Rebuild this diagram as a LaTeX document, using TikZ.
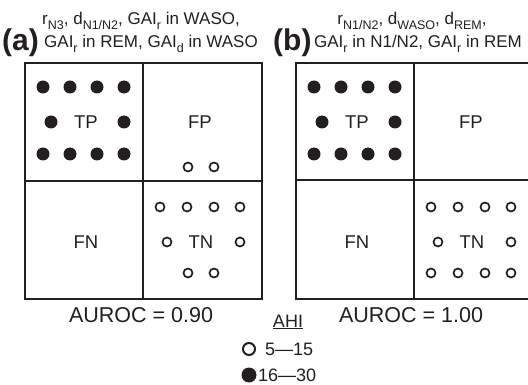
\documentclass[tikz,border=0pt]{standalone}
\usepackage{fontspec}
\setmainfont{Liberation Sans}
\definecolor{ink}{HTML}{231F20}
\newcommand\sbs[1]{\raisebox{-0.28em}{\fontsize{12.5}{12.5}\selectfont #1}}
\begin{document}
\begin{tikzpicture}[x=1pt,y=-1pt,
  txt/.style={inner sep=0pt,text=ink},
  hdr/.style={txt,anchor=base,font=\fontsize{17}{17}\selectfont},
  lbl/.style={txt,font=\fontsize{18.5}{18.5}\selectfont},
  big/.style={txt,anchor=base west,font=\fontsize{30}{30}\selectfont\bfseries},
  auc/.style={txt,font=\fontsize{21.5}{21.5}\selectfont},
  boxline/.style={draw=ink,line width=1.6pt},
  fdot/.style={circle,fill=ink,inner sep=0pt,minimum size=13pt},
  odot/.style={circle,draw=ink,line width=1.7pt,inner sep=0pt,minimum size=9pt},
  ldoto/.style={circle,draw=ink,line width=2pt,inner sep=0pt,minimum size=12pt},
  ldotf/.style={circle,fill=ink,inner sep=0pt,minimum size=15pt}]
\clip (0,0) rectangle (528,385);
\fill[white] (0,0) rectangle (528,385);
% headers
\node[big] (la) at (2,51) {(a)};
\node[hdr] (ha1) at (141,25) {r\sbs{N3}, d\sbs{N1/N2}, GAI\sbs{r} in WASO,};
\node[hdr] (ha2) at (151,48) {GAI\sbs{r} in REM, GAI\sbs{d} in WASO};
\node[big] (lb) at (273,51) {(b)};
\node[hdr] (hb1) at (412,25) {r\sbs{N1/N2}, d\sbs{WASO}, d\sbs{REM},};
\node[hdr] (hb2) at (418,48) {GAI\sbs{r} in N1/N2, GAI\sbs{r} in REM};
% panel a
\draw[boxline] (25,63) rectangle (262,299);
\draw[boxline] (143,63) -- (143,299);
\draw[boxline] (25,181) -- (262,181);
% panel b
\draw[boxline] (296,63) rectangle (532,299);
\draw[boxline] (414,63) -- (414,299);
\draw[boxline] (296,180) -- (532,180);
% TP dots
\foreach \ox/\p in {25/a,296/b}{
  \foreach \dx in {18,45,72,99}{
    \node[fdot] at (\ox+\dx,87) {};
    \node[fdot] at (\ox+\dx,154) {};
  }
  \node[fdot] at (\ox+26,122) {};
  \node[fdot] at (\ox+99,122) {};
  \node[lbl] (tp\p) at (\ox+61,122) {TP};
  \node[lbl] (fn\p) at (\ox+61,242) {FN};
}
% FP / TN
\foreach \ox/\p in {143/a,414/b}{
  \node[lbl] (fp\p) at (\ox+57,122) {FP};
  \node[lbl] (tn\p) at (\ox+58,242) {TN};
  \foreach \dx in {17,44,71,97}{
    \node[odot] at (\ox+\dx,207) {};
  }
  \node[odot] at (\ox+24,242) {};
  \node[odot] at (\ox+97,242) {};
}
% panel a extras
\node[odot] at (188,167) {};
\node[odot] at (214,167) {};
\node[odot] at (188,273) {};
\node[odot] at (214,273) {};
% panel b extras
\foreach \dx in {17,44,71,97}{
  \node[odot] at (414+\dx,273) {};
}
% AUROC
\node[auc] (auca) at (141,315) {AUROC = 0.90};
\node[auc] (aucb) at (411,315) {AUROC = 1.00};
% legend
\node[lbl,font=\fontsize{18}{18}\selectfont] (ahi) at (288,322) {\underline{AHI}};
\node[ldoto] (l1) at (249,349) {};
\node[txt,anchor=west,font=\fontsize{18}{18}\selectfont] (t1) at (265,349) {5—15};
\node[ldotf] (l2) at (249,375) {};
\node[txt,anchor=west,font=\fontsize{18}{18}\selectfont] (t2) at (258,375) {16—30};
\end{tikzpicture}
\end{document}
